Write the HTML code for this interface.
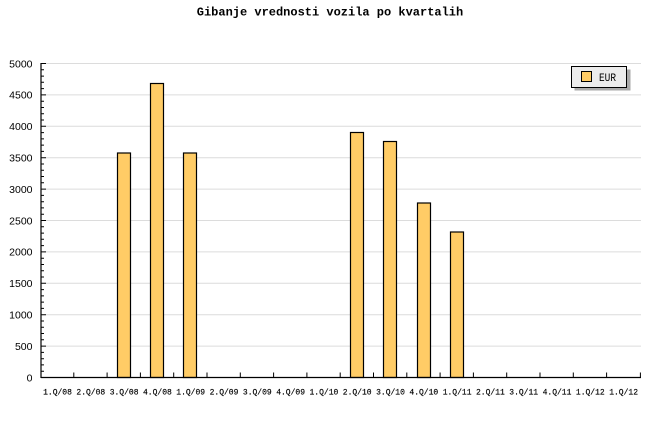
<!DOCTYPE html>
<html><head><meta charset="utf-8"><style>
html,body{margin:0;padding:0;background:#fff;}
svg{display:block;}
</style></head><body>
<svg width="660" height="440" viewBox="0 0 660 440" xmlns="http://www.w3.org/2000/svg">
<rect width="660" height="440" fill="#fff"/>
<text x="330" y="15.5" text-anchor="middle" font-family="Liberation Mono, monospace" font-weight="bold" font-size="12" fill="#000">Gibanje vrednosti vozila po kvartalih</text>
<!-- gridlines -->
<g stroke="#dcdcdc" stroke-width="1">
<line x1="46" y1="63.5" x2="641" y2="63.5"/>
<line x1="46" y1="94.9" x2="641" y2="94.9"/>
<line x1="46" y1="126.3" x2="641" y2="126.3"/>
<line x1="46" y1="157.7" x2="641" y2="157.7"/>
<line x1="46" y1="189.1" x2="641" y2="189.1"/>
<line x1="46" y1="220.5" x2="641" y2="220.5"/>
<line x1="46" y1="251.9" x2="641" y2="251.9"/>
<line x1="46" y1="283.3" x2="641" y2="283.3"/>
<line x1="46" y1="314.7" x2="641" y2="314.7"/>
<line x1="46" y1="346.1" x2="641" y2="346.1"/>
</g>
<!-- bars -->
<g fill="#ffcc66" stroke="#000" stroke-width="1.2">
<rect x="117.5" y="153" width="13" height="224.5"/>
<rect x="150.5" y="83.5" width="13" height="294"/>
<rect x="183.5" y="153" width="13" height="224.5"/>
<rect x="350.5" y="132.5" width="13" height="245"/>
<rect x="383.5" y="141.5" width="13" height="236"/>
<rect x="417.5" y="203" width="13" height="174.5"/>
<rect x="450.5" y="232" width="13" height="145.5"/>
</g>
<!-- axes -->
<g stroke="#000" stroke-width="1.2" fill="none">
<line x1="41" y1="63" x2="41" y2="378"/>
<line x1="41" y1="377.5" x2="641" y2="377.5"/>
</g>
<g stroke="#000" stroke-width="1">
<path d="M41 63.5h5M41 94.9h5M41 126.3h5M41 157.7h5M41 189.1h5M41 220.5h5M41 251.9h5M41 283.3h5M41 314.7h5M41 346.1h5"/>
<path d="M41 69.8h3M41 76.1h3M41 82.3h3M41 88.6h3M41 101.2h3M41 107.5h3M41 113.7h3M41 120h3M41 132.6h3M41 138.9h3M41 145.1h3M41 151.4h3M41 164h3M41 170.3h3M41 176.5h3M41 182.8h3M41 195.4h3M41 201.7h3M41 207.9h3M41 214.2h3M41 226.8h3M41 233.1h3M41 239.3h3M41 245.6h3M41 258.2h3M41 264.5h3M41 270.7h3M41 277h3M41 289.6h3M41 295.9h3M41 302.1h3M41 308.4h3M41 321h3M41 327.3h3M41 333.5h3M41 339.8h3M41 352.4h3M41 358.7h3M41 364.9h3M41 371.2h3"/>
<path d="M73.8 377.5v-5M107.1 377.5v-5M140.4 377.5v-5M173.7 377.5v-5M207 377.5v-5M240.3 377.5v-5M273.6 377.5v-5M306.9 377.5v-5M340.2 377.5v-5M373.5 377.5v-5M406.8 377.5v-5M440.1 377.5v-5M473.4 377.5v-5M506.7 377.5v-5M540 377.5v-5M573.3 377.5v-5M606.6 377.5v-5M640.4 377.5v-5"/>
</g>
<!-- y labels -->
<g font-family="Liberation Sans, sans-serif" font-size="10.5" fill="#000" text-anchor="end">
<text x="32.5" y="67.3">5000</text>
<text x="32.5" y="98.7">4500</text>
<text x="32.5" y="130.1">4000</text>
<text x="32.5" y="161.5">3500</text>
<text x="32.5" y="192.9">3000</text>
<text x="32.5" y="224.3">2500</text>
<text x="32.5" y="255.7">2000</text>
<text x="32.5" y="287.1">1500</text>
<text x="32.5" y="318.5">1000</text>
<text x="32.5" y="349.9">500</text>
<text x="32.5" y="381.3">0</text>
</g>
<!-- x labels -->
<g font-family="Liberation Mono, monospace" font-size="8" fill="#000" text-anchor="middle" stroke="#000" stroke-width="0.15">
<text x="57.5" y="394.5">1.Q/08</text>
<text x="90.8" y="394.5">2.Q/08</text>
<text x="124.1" y="394.5">3.Q/08</text>
<text x="157.4" y="394.5">4.Q/08</text>
<text x="190.7" y="394.5">1.Q/09</text>
<text x="224" y="394.5">2.Q/09</text>
<text x="257.3" y="394.5">3.Q/09</text>
<text x="290.6" y="394.5">4.Q/09</text>
<text x="323.9" y="394.5">1.Q/10</text>
<text x="357.2" y="394.5">2.Q/10</text>
<text x="390.5" y="394.5">3.Q/10</text>
<text x="423.8" y="394.5">4.Q/10</text>
<text x="457.1" y="394.5">1.Q/11</text>
<text x="490.4" y="394.5">2.Q/11</text>
<text x="523.7" y="394.5">3.Q/11</text>
<text x="557" y="394.5">4.Q/11</text>
<text x="590.3" y="394.5">1.Q/12</text>
<text x="623.6" y="394.5">1.Q/12</text>
</g>
<!-- legend -->
<rect x="574.5" y="69.5" width="56" height="21" fill="#aaa"/>
<rect x="571.5" y="66.5" width="55" height="21" fill="#ececec" stroke="#000" stroke-width="1"/>
<rect x="581.5" y="71.5" width="10" height="10" fill="#ffcc66" stroke="#000" stroke-width="1"/>
<text x="599" y="81" font-family="Liberation Mono, monospace" font-size="11" fill="#000" textLength="17" lengthAdjust="spacingAndGlyphs">EUR</text>
</svg>
</body></html>
